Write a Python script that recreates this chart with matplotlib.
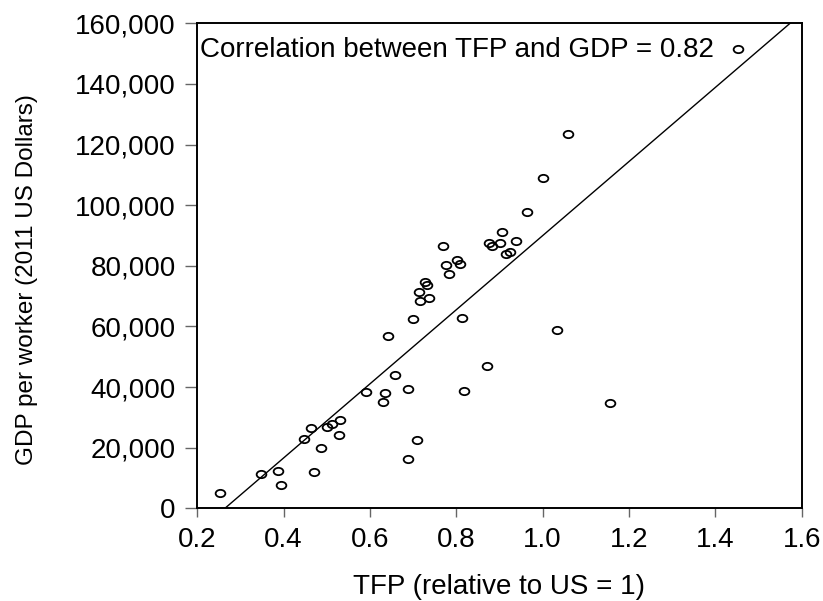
import numpy as np
import matplotlib
matplotlib.use("Agg")
import matplotlib.pyplot as plt
from matplotlib.path import Path
from matplotlib.transforms import Affine2D
from matplotlib.ticker import FuncFormatter

# TFP (relative to US) and GDP per worker
tfp = [0.253, 0.348, 0.388, 0.395, 0.470, 0.448, 0.463, 0.486, 0.500, 0.513,
       0.530, 0.529, 0.689, 0.709, 0.591, 0.634, 0.631, 0.658, 0.688, 0.818,
       0.871, 0.641, 0.699, 0.814, 1.033, 1.155, 0.713, 0.717, 0.736, 0.727,
       0.731, 0.783, 0.775, 0.802, 0.808, 0.769, 0.875, 0.883, 0.901, 0.938,
       0.906, 0.914, 0.924, 0.963, 1.001, 1.059, 1.452]
gdp = [4950, 11300, 12400, 7600, 11900, 23000, 26600, 19800, 26900, 27700,
       29100, 24100, 16300, 22600, 38400, 37900, 35100, 44000, 39400, 38800,
       46800, 56700, 62400, 62700, 58700, 34800, 71300, 68400, 69300, 74800,
       73600, 77300, 80400, 81800, 80600, 86400, 87600, 86600, 87400, 88200,
       91300, 83800, 84600, 97900, 109100, 123600, 151500]

# fitted line gdp = intercept + slope * tfp
fit_intercept = -32270
fit_slope = 122230
corr = 0.82

xticks = [0.2, 0.4, 0.6, 0.8, 1.0, 1.2, 1.4, 1.6]
yticks = [0, 20000, 40000, 60000, 80000, 100000, 120000, 140000, 160000]

plt.rcParams['font.family'] = ['Liberation Sans', 'DejaVu Sans']

fig = plt.figure(figsize=(8.23, 6.01), dpi=100)
ax = fig.add_axes([0.2397, 0.1542, 0.7344, 0.8070])

# hollow, slightly flattened circles
ell = Path.unit_circle().transformed(Affine2D().scale(1.0, 0.75))
ax.plot(tfp, gdp, linestyle='none', marker=ell, markersize=7.0,
        markerfacecolor='none', markeredgecolor='black', markeredgewidth=1.3)

xs = np.array([xticks[0], xticks[-1]])
ax.plot(xs, fit_intercept + fit_slope * xs, color='black', linewidth=1.0)

ax.set_xlim(0.2, 1.6)
ax.set_ylim(0, 160000)
ax.set_xticks(xticks)
ax.set_xticklabels(['%.1f' % v for v in xticks])
ax.set_yticks(yticks)
ax.yaxis.set_major_formatter(FuncFormatter(lambda v, p: f'{v:,.0f}'))

ax.tick_params(axis='both', direction='out', colors='#666666', labelcolor='black',
               labelsize=20, width=1.0, pad=7)
ax.tick_params(axis='y', length=8.6)
ax.tick_params(axis='x', length=6.5)
for s in ax.spines.values():
    s.set_color('black')
    s.set_linewidth(1.4)

ax.text(0.0045, 0.9311, 'Correlation between TFP and GDP = %.2f' % corr,
        transform=ax.transAxes, fontsize=20, ha='left', va='baseline')

ax.set_xlabel('TFP (relative to US = 1)', fontsize=20, va='center')
ax.xaxis.set_label_coords(0.5, -0.162)
ax.set_ylabel('GDP per worker (2011 US Dollars)', fontsize=17.5, va='center')
ax.yaxis.set_label_coords(-0.2818, 0.4707)

fig.savefig('out.png', dpi=100)
